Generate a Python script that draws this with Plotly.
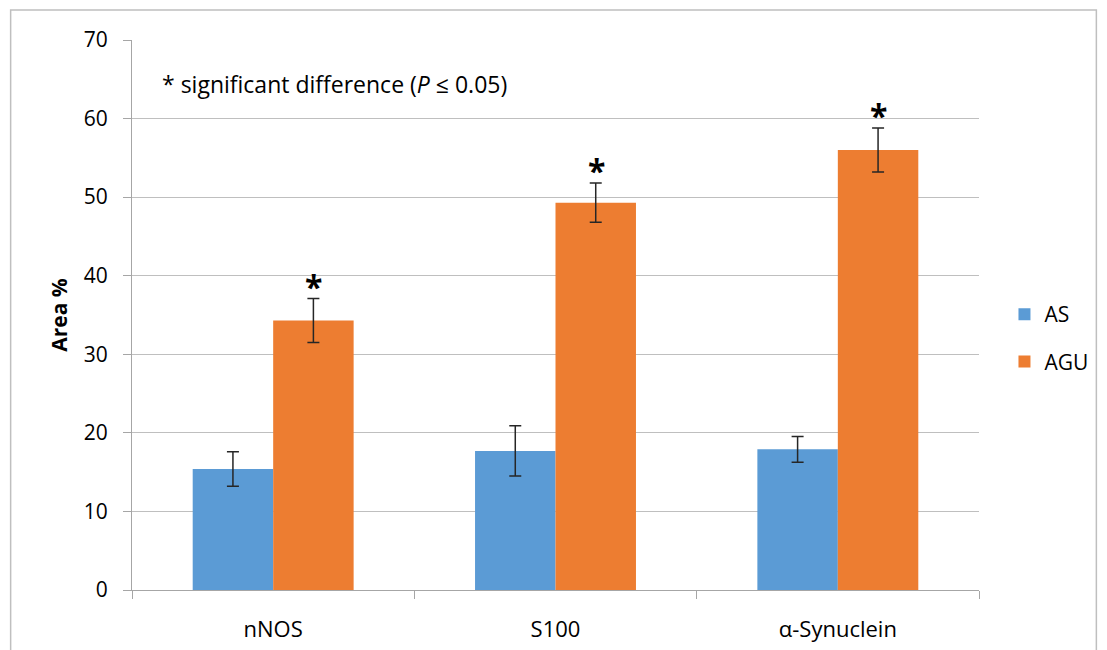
import plotly.graph_objects as go

categories = ["nNOS", "S100", "α-Synuclein"]
as_values = [15.4, 17.7, 17.9]
as_errors = [2.2, 3.2, 1.65]
agu_values = [34.3, 49.3, 56.0]
agu_errors = [2.8, 2.5, 2.8]
significant = [True, True, True]

W, H = 1107, 650
OFF = 8  # page body margin
# plot area in screen pixels: x 131.5..979.5, y 40..590
L = 131.5 - OFF
R = W - (979.5 - OFF)
T = 40 - OFF
B = H - (590 - OFF)
pw, ph = W - L - R, H - T - B

def px_x(p):
    return (p - OFF - L) / pw

def px_y(p):
    return (H - B - (p - OFF)) / ph

FONT = "Open Sans"

fig = go.Figure()
fig.add_trace(go.Bar(
    x=categories, y=as_values, name="AS", legendgroup="AS",
    marker=dict(color="#5b9bd5", line=dict(width=0)),
    error_y=dict(type="data", array=as_errors, visible=True,
                 color="#262626", thickness=1.5, width=6),
))
fig.add_trace(go.Bar(
    x=categories, y=agu_values, name="AGU", legendgroup="AGU",
    marker=dict(color="#ed7d31", line=dict(width=0)),
    error_y=dict(type="data", array=agu_errors, visible=True,
                 color="#262626", thickness=1.5, width=6),
))

annotations = []
for c, v, e, s in zip(categories, agu_values, agu_errors, significant):
    if s:
        annotations.append(dict(
            x=c, y=v + e, xref="x", yref="y", text="<b>*</b>", showarrow=False,
            xshift=40.5, yanchor="bottom", yshift=-11,
            font=dict(size=32, color="#000000", family=FONT),
        ))
annotations.append(dict(
    x=px_x(160), y=px_y(84), xref="paper", yref="paper",
    text="* significant difference (<i>P</i> ≤ 0.05)", showarrow=False,
    xanchor="left", yanchor="middle",
    font=dict(size=23, color="#000000", family=FONT),
))

fig.update_layout(
    width=W, height=H,
    margin=dict(l=L, r=R, t=T, b=B, pad=0),
    paper_bgcolor="white", plot_bgcolor="white",
    barmode="group", bargap=0.43, bargroupgap=0,
    font=dict(family=FONT, size=21, color="#000000"),
    showlegend=True,
    legend=dict(x=px_x(1005), y=px_y(294), xanchor="left", yanchor="top",
                font=dict(size=21, family=FONT, color="#000000"),
                tracegroupgap=17, bgcolor="rgba(0,0,0,0)"),
    annotations=annotations,
    shapes=[dict(type="rect", xref="paper", yref="paper",
                 x0=px_x(10), x1=px_x(1097), y0=px_y(665), y1=px_y(10),
                 line=dict(color="#bfbfbf", width=1.5), layer="below")],
    xaxis=dict(showline=True, linecolor="#a6a6a6", linewidth=1.2,
               ticks="outside", tickson="boundaries", ticklen=8,
               tickcolor="#a6a6a6", ticklabelstandoff=19,
               tickfont=dict(size=22, family=FONT)),
    yaxis=dict(range=[0, 70], dtick=10, showgrid=True, gridcolor="#bfbfbf",
               gridwidth=1.2, showline=True, linecolor="#a6a6a6", linewidth=1.2,
               ticks="outside", ticklen=8, tickcolor="#a6a6a6",
               ticklabelstandoff=11, zeroline=False,
               tickfont=dict(size=21, family=FONT),
               title=dict(text="<b>Area %</b>", standoff=10,
                          font=dict(size=21, family=FONT))),
)

fig.write_html("out.html")
